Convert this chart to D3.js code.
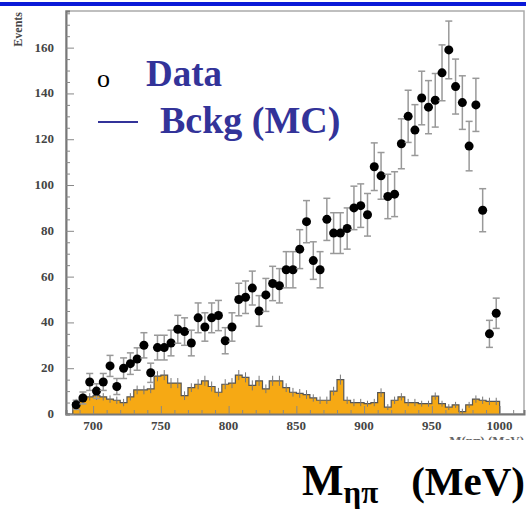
<!DOCTYPE html>
<html>
<head>
<meta charset="utf-8">
<script src="https://cdn.jsdelivr.net/npm/d3@7"></script>
<style>
  body { margin: 0; background: #fff; }
  svg text { font-family: "Liberation Serif", "Times New Roman", "DejaVu Serif", serif; }
</style>
</head>
<body>
<div id="chart"></div>
<script>
// bin centres of the eta-pi mass spectrum (MeV), 5 MeV bins
var massBins = [687.5, 692.5, 697.5, 702.5, 707.5, 712.5, 717.5, 722.5, 727.5, 732.5,
  737.5, 742.5, 747.5, 752.5, 757.5, 762.5, 767.5, 772.5, 777.5, 782.5,
  787.5, 792.5, 797.5, 802.5, 807.5, 812.5, 817.5, 822.5, 827.5, 832.5,
  837.5, 842.5, 847.5, 852.5, 857.5, 862.5, 867.5, 872.5, 877.5, 882.5,
  887.5, 892.5, 897.5, 902.5, 907.5, 912.5, 917.5, 922.5, 927.5, 932.5,
  937.5, 942.5, 947.5, 952.5, 957.5, 962.5, 967.5, 972.5, 977.5, 982.5,
  987.5, 992.5, 997.5];

// data points
var dataCounts = [4, 7, 14, 10, 14, 21, 12, 20, 22, 24,
  30, 18, 29, 29, 31, 37, 36, 31, 42, 38,
  42, 43, 32, 38, 50, 51, 55, 45, 52, 57,
  56, 63, 63, 72, 84, 67, 63, 85, 79, 79,
  81, 90, 91, 87, 108, 104, 95, 96, 118, 130,
  124, 138, 134, 137, 149, 159, 143, 136, 117, 135,
  89, 35, 44];
var dataErrors = [2.0, 2.6, 3.7, 3.2, 3.7, 4.6, 3.5, 4.5, 4.7, 4.9,
  5.5, 4.2, 5.4, 5.4, 5.6, 6.1, 6.0, 5.6, 6.5, 6.2,
  6.5, 6.6, 5.7, 6.2, 7.1, 7.1, 7.4, 6.7, 7.2, 7.5,
  7.5, 7.9, 7.9, 8.5, 9.2, 8.2, 7.9, 9.2, 8.9, 8.9,
  9.0, 9.5, 9.5, 9.3, 10.4, 10.2, 9.7, 9.8, 10.9, 11.4,
  11.1, 11.7, 11.6, 11.7, 12.2, 12.6, 12.0, 11.7, 10.8, 11.6,
  9.4, 5.9, 6.6];

// background (MC) histogram
var bkgCounts = [5, 7, 7.5, 8, 7.5, 6.5, 6, 5, 7.5, 10.5,
  10.5, 11, 16.5, 17, 13.5, 13.5, 8, 11.5, 13, 14.5,
  12, 9.5, 13, 13.5, 17, 16, 12.5, 14.5, 11, 14.5,
  14.5, 11.5, 9.5, 9, 8.5, 7, 6, 6, 10, 15,
  6, 5, 5, 4.5, 5, 9.3, 3, 6, 7.5, 5,
  5, 4.5, 4.5, 7.8, 4.5, 3, 4, 1, 4, 6.5,
  6, 5.5, 5.5];
var bkgErrors = [1.6, 1.6, 1.6, 1.9, 1.6, 1.6, 1.6, 1.6, 1.6, 1.9,
  1.9, 1.9, 2.2, 2.2, 2.2, 2.2, 1.9, 1.9, 2.2, 2.2,
  2.2, 1.9, 2.2, 2.2, 2.2, 2.2, 2.2, 2.2, 1.9, 2.2,
  2.2, 1.9, 1.9, 1.9, 1.9, 1.6, 1.6, 1.6, 1.9, 2.2,
  1.6, 1.6, 1.6, 1.3, 1.6, 1.9, 1.3, 1.6, 1.6, 1.6,
  1.6, 1.3, 1.3, 1.6, 1.3, 1.3, 1.3, 1.3, 1.3, 1.6,
  1.6, 1.6, 1.6];

var xTicks = [700, 750, 800, 850, 900, 950, 1000];
var yTicks = [0, 20, 40, 60, 80, 100, 120, 140, 160];
var binWidth = 5;

var width = 526, height = 509;
var svg = d3.select('#chart').append('svg')
  .attr('width', width)
  .attr('height', height);

// blue band along the top
svg.append('rect')
  .attr('x', 0).attr('y', 2)
  .attr('width', width).attr('height', 4)
  .attr('fill', '#0a1ad8');

var x = d3.scaleLinear().domain([680, 1018]).range([66, 524]);
var y = d3.scaleLinear().domain([0, 176]).range([414, 11]);

// frame
svg.append('rect')
  .attr('x', 66).attr('y', 11)
  .attr('width', 458).attr('height', 403)
  .attr('fill', 'none')
  .attr('stroke', '#aaa')
  .attr('stroke-width', 1.5);

// background histogram as steps
var steps = massBins.map(function(m, i) { return [m - binWidth / 2, bkgCounts[i]]; });
steps.push([massBins[massBins.length - 1] + binWidth / 2, bkgCounts[bkgCounts.length - 1]]);

var area = d3.area()
  .curve(d3.curveStepAfter)
  .x(function(d) { return x(d[0]); })
  .y0(y(0))
  .y1(function(d) { return y(d[1]); });

svg.append('path')
  .datum(steps)
  .attr('d', area)
  .attr('fill', '#f6a914');

var outline = [[steps[0][0], 0]].concat(steps).concat([[steps[steps.length - 1][0], 0]]);
svg.append('path')
  .datum(outline)
  .attr('d', d3.line().curve(d3.curveStepAfter)
    .x(function(d) { return x(d[0]); })
    .y(function(d) { return y(d[1]); }))
  .attr('fill', 'none')
  .attr('stroke', '#555')
  .attr('stroke-width', 1.2);

// small error ticks on the histogram
svg.append('g').selectAll('line')
  .data(massBins)
  .enter().append('line')
  .attr('x1', function(d) { return x(d); })
  .attr('x2', function(d) { return x(d); })
  .attr('y1', function(d, i) { return y(bkgCounts[i] - bkgErrors[i]); })
  .attr('y2', function(d, i) { return y(bkgCounts[i] + bkgErrors[i]); })
  .attr('stroke', '#777')
  .attr('stroke-width', 1);

// axes (ticks inward)
var xAxis = d3.axisTop(x)
  .tickValues(d3.range(680, 1020, 10))
  .tickSize(4)
  .tickFormat('');
svg.append('g')
  .attr('transform', 'translate(0,414)')
  .call(xAxis)
  .call(function(g) {
    g.select('.domain').attr('stroke', '#777').attr('stroke-width', 2);
    g.selectAll('.tick line').attr('stroke', '#888')
      .attr('y2', function(d) { return xTicks.indexOf(d) >= 0 ? -8 : -4; });
  });

var yAxis = d3.axisRight(y)
  .tickValues(d3.range(0, 176, 5))
  .tickSize(4)
  .tickFormat('');
svg.append('g')
  .attr('transform', 'translate(66,0)')
  .call(yAxis)
  .call(function(g) {
    g.select('.domain').attr('stroke', '#777').attr('stroke-width', 2);
    g.selectAll('.tick line').attr('stroke', '#888')
      .attr('x2', function(d) { return yTicks.indexOf(d) >= 0 ? 8 : 4; });
  });

// tick labels
svg.append('g').selectAll('text')
  .data(yTicks)
  .enter().append('text')
  .attr('x', 54)
  .attr('y', function(d) { return y(d) + 4; })
  .attr('text-anchor', 'end')
  .attr('font-size', 13)
  .attr('font-weight', 'bold')
  .attr('fill', '#444')
  .text(function(d) { return d; });

svg.append('g').selectAll('text')
  .data(xTicks)
  .enter().append('text')
  .attr('x', function(d) { return x(d); })
  .attr('y', 430)
  .attr('text-anchor', 'middle')
  .attr('font-size', 13)
  .attr('font-weight', 'bold')
  .attr('fill', '#444')
  .text(function(d) { return d; });

svg.append('text')
  .attr('transform', 'translate(22,12) rotate(-90)')
  .attr('text-anchor', 'end')
  .attr('font-size', 12)
  .attr('font-weight', 'bold')
  .attr('fill', '#444')
  .text('Events');

// the small original axis title, cut off at the bottom
svg.append('clipPath').attr('id', 'cut')
  .append('rect').attr('x', 400).attr('y', 430).attr('width', 126).attr('height', 10);
svg.append('text')
  .attr('clip-path', 'url(#cut)')
  .attr('x', 524).attr('y', 445)
  .attr('text-anchor', 'end')
  .attr('font-size', 13)
  .attr('font-weight', 'bold')
  .attr('fill', '#666')
  .text('M(\u03b7\u03c0) (MeV)');

// data points with error bars
var pts = svg.append('g').selectAll('g')
  .data(massBins)
  .enter().append('g');

pts.append('line')
  .attr('x1', function(d) { return x(d); })
  .attr('x2', function(d) { return x(d); })
  .attr('y1', function(d, i) { return y(dataCounts[i] - dataErrors[i]); })
  .attr('y2', function(d, i) { return y(dataCounts[i] + dataErrors[i]); })
  .attr('stroke', '#999')
  .attr('stroke-width', 1.5);

[-1, 1].forEach(function(s) {
  pts.append('line')
    .attr('x1', function(d) { return x(d) - 3.5; })
    .attr('x2', function(d) { return x(d) + 3.5; })
    .attr('y1', function(d, i) { return y(dataCounts[i] + s * dataErrors[i]); })
    .attr('y2', function(d, i) { return y(dataCounts[i] + s * dataErrors[i]); })
    .attr('stroke', '#999')
    .attr('stroke-width', 1.5);
});

pts.append('circle')
  .attr('cx', function(d) { return x(d); })
  .attr('cy', function(d, i) { return y(dataCounts[i]); })
  .attr('r', 4.5)
  .attr('fill', '#000');

// legend
svg.append('text')
  .attr('x', 97).attr('y', 87)
  .attr('font-size', 26)
  .attr('fill', '#000')
  .text('o');
svg.append('text')
  .attr('x', 146).attr('y', 86)
  .attr('font-size', 37)
  .attr('font-weight', 'bold')
  .attr('fill', '#333399')
  .text('Data');
svg.append('line')
  .attr('x1', 98).attr('x2', 138)
  .attr('y1', 122).attr('y2', 122)
  .attr('stroke', '#333399')
  .attr('stroke-width', 2);
svg.append('text')
  .attr('x', 160).attr('y', 133)
  .attr('font-size', 38)
  .attr('font-weight', 'bold')
  .attr('fill', '#333399')
  .text('Bckg (MC)');

// big axis label
var lab = svg.append('text')
  .attr('x', 302).attr('y', 495)
  .attr('font-weight', 'bold')
  .attr('fill', '#000');
lab.append('tspan').attr('font-size', 44).text('M');
lab.append('tspan').attr('font-size', 31).attr('dy', 8).text('\u03b7\u03c0');
svg.append('text')
  .attr('x', 525).attr('y', 495)
  .attr('text-anchor', 'end')
  .attr('font-size', 41)
  .attr('font-weight', 'bold')
  .attr('fill', '#000')
  .text('(MeV)');
</script>
</body>
</html>
